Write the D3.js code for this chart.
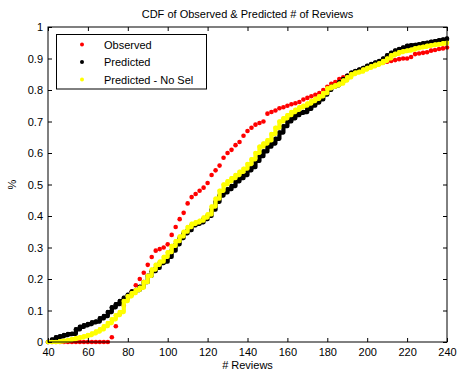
<!DOCTYPE html>
<html>
<head>
<meta charset="utf-8">
<script src="https://cdn.jsdelivr.net/npm/d3@7"></script>
<style>
  html, body { margin: 0; padding: 0; background: #fff; }
  svg { display: block; font-family: "Liberation Sans", Arial, Helvetica, sans-serif; }
</style>
</head>
<body>
<svg id="chart" width="457" height="372"></svg>
<script>
// ---- data (CDF values read at x = 40, 42, ..., 240) ----
const reviewsX = d3.range(40, 241, 2);
const observed = [
  0,0,0,0,0,0,0,0,0,0,0,0,0,0,0,0,
  0.015,0.05,0.09,0.115,0.14,0.16,0.18,0.20,0.22,0.245,0.27,0.29,0.295,0.30,0.31,
  0.34,0.365,0.39,0.41,0.44,0.46,0.47,0.48,0.49,0.505,0.53,0.545,0.56,0.585,0.60,
  0.61,0.625,0.635,0.655,0.67,0.68,0.69,0.695,0.70,0.725,0.73,0.735,0.742,0.745,0.75,
  0.755,0.758,0.762,0.77,0.775,0.78,0.785,0.79,0.80,0.81,0.82,0.825,0.835,0.84,0.845,
  0.85,0.857,0.863,0.868,0.873,0.876,0.88,0.883,0.887,0.89,0.892,0.895,0.898,0.90,0.90,
  0.905,0.914,0.916,0.918,0.92,0.925,0.927,0.93,0.932,0.935
];
const predicted = [
  0,0.008,0.015,0.018,0.022,0.025,0.026,0.04,0.048,0.053,0.057,0.062,0.065,0.075,0.082,0.095,
  0.11,0.12,0.13,0.14,0.15,0.16,0.165,0.175,0.19,0.21,0.225,0.235,0.25,0.255,0.27,
  0.29,0.31,0.33,0.345,0.355,0.37,0.375,0.38,0.39,0.40,0.42,0.445,0.465,0.475,0.485,
  0.495,0.51,0.52,0.53,0.545,0.555,0.575,0.59,0.605,0.62,0.63,0.645,0.665,0.685,0.70,
  0.71,0.72,0.727,0.73,0.74,0.75,0.76,0.77,0.785,0.80,0.81,0.815,0.825,0.835,0.845,
  0.855,0.86,0.865,0.87,0.877,0.882,0.887,0.892,0.90,0.91,0.918,0.925,0.93,0.935,0.94,
  0.942,0.943,0.945,0.948,0.95,0.953,0.955,0.958,0.96,0.963
];
const predictedNoSel = [
  0,0,0,0.002,0.004,0.006,0.009,0.012,0.015,0.018,0.022,0.027,0.033,0.04,0.05,0.06,
  0.072,0.085,0.095,0.13,0.145,0.155,0.165,0.172,0.19,0.21,0.23,0.245,0.255,0.27,0.285,
  0.305,0.32,0.335,0.35,0.365,0.375,0.38,0.385,0.395,0.405,0.43,0.455,0.48,0.50,0.51,
  0.52,0.53,0.54,0.55,0.565,0.58,0.60,0.62,0.63,0.64,0.66,0.68,0.70,0.71,0.72,
  0.73,0.737,0.745,0.75,0.757,0.765,0.772,0.78,0.79,0.805,0.81,0.815,0.82,0.83,0.84,
  0.85,0.855,0.858,0.865,0.87,0.875,0.88,0.885,0.892,0.90,0.91,0.915,0.92,0.923,0.925,
  0.928,0.932,0.935,0.937,0.94,0.942,0.944,0.946,0.948,0.95
];
const seriesNames = ["Observed", "Predicted", "Predicted - No Sel"];
const seriesColors = ["#ff0000", "#000000", "#ffff00"];
const xTicks = [40,60,80,100,120,140,160,180,200,220,240];
const yTicks = [0,0.1,0.2,0.3,0.4,0.5,0.6,0.7,0.8,0.9,1];
const titleText = "CDF of Observed & Predicted # of Reviews";
const xLabel = "# Reviews";
const yLabel = "%";

// ---- layout ----
const svg = d3.select("#chart");
const L = 48, R = 447, T = 27, B = 342;
const x = d3.scaleLinear().domain([40, 240]).range([L, R]);
const y = d3.scaleLinear().domain([0, 1]).range([B, T]);
const fs = 11;

const allSeries = [observed, predicted, predictedNoSel];

const plot = svg.append("g");
plot.append("defs").append("clipPath").attr("id", "clip")
  .append("rect").attr("x", L - 3).attr("y", T).attr("width", R - L + 6).attr("height", B - T + 3);

const marks = plot.append("g").attr("clip-path", "url(#clip)");
allSeries.forEach((vals, i) => {
  const pts = reviewsX.map((xv, j) => [xv, vals[j]]);
  if (i > 0) {
    marks.append("path")
      .attr("d", d3.line().x(d => x(d[0])).y(d => y(d[1])).curve(d3.curveStepAfter)(pts))
      .attr("fill", "none").attr("stroke", seriesColors[i])
      .attr("stroke-width", 4.2).attr("stroke-linejoin", "round").attr("stroke-linecap", "round");
  }
  marks.append("g").selectAll("circle").data(pts).join("circle")
    .attr("cx", d => x(d[0])).attr("cy", d => y(d[1])).attr("r", 2.3)
    .attr("fill", seriesColors[i]);
});

// ---- axes (MATLAB-style box with inward ticks) ----
const tickLen = 4;
const axisB = svg.append("g").attr("transform", `translate(0,${B})`)
  .call(d3.axisBottom(x).tickValues(xTicks).tickSizeInner(-tickLen).tickSizeOuter(0).tickPadding(6).tickFormat(d3.format("d")));
const axisT = svg.append("g").attr("transform", `translate(0,${T})`)
  .call(d3.axisTop(x).tickValues(xTicks).tickSizeInner(-tickLen).tickSizeOuter(0).tickFormat(""));
const axisL = svg.append("g").attr("transform", `translate(${L},0)`)
  .call(d3.axisLeft(y).tickValues(yTicks).tickSizeInner(-tickLen).tickSizeOuter(0).tickPadding(5).tickFormat(d => d3.format("")(d)));
const axisR = svg.append("g").attr("transform", `translate(${R},0)`)
  .call(d3.axisRight(y).tickValues(yTicks).tickSizeInner(-tickLen).tickSizeOuter(0).tickFormat(""));
[axisB, axisT, axisL, axisR].forEach(g => {
  g.select(".domain").remove();
  g.selectAll(".tick line").attr("stroke", "#000").attr("stroke-width", 1);
  g.selectAll(".tick text").attr("fill", "#000").attr("font-size", fs)
    .attr("font-family", "'Liberation Sans', Arial, sans-serif");
});
axisB.selectAll(".tick text").attr("dy", "0.71em");

svg.append("rect").attr("x", L).attr("y", T).attr("width", R - L).attr("height", B - T)
  .attr("fill", "none").attr("stroke", "#000").attr("stroke-width", 1);

// ---- labels ----
svg.append("text").attr("x", (L + R) / 2).attr("y", 18).attr("text-anchor", "middle")
  .attr("font-size", fs).text(titleText);
svg.append("text").attr("x", (L + R) / 2).attr("y", 369).attr("text-anchor", "middle")
  .attr("font-size", fs).text(xLabel);
svg.append("text").attr("transform", `translate(16,${(T + B) / 2}) rotate(-90)`)
  .attr("text-anchor", "middle").attr("font-size", fs).text(yLabel);

// ---- legend ----
const lg = svg.append("g");
lg.append("rect").attr("x", 56.5).attr("y", 34.5).attr("width", 150).attr("height", 54.5)
  .attr("fill", "#fff").attr("stroke", "#000").attr("stroke-width", 1);
seriesNames.forEach((name, i) => {
  const cy = 44.5 + i * 17.5;
  lg.append("circle").attr("cx", 82).attr("cy", cy).attr("r", 2).attr("fill", seriesColors[i]);
  lg.append("text").attr("x", 104).attr("y", cy + 4).attr("font-size", fs).text(name);
});
</script>
</body>
</html>
